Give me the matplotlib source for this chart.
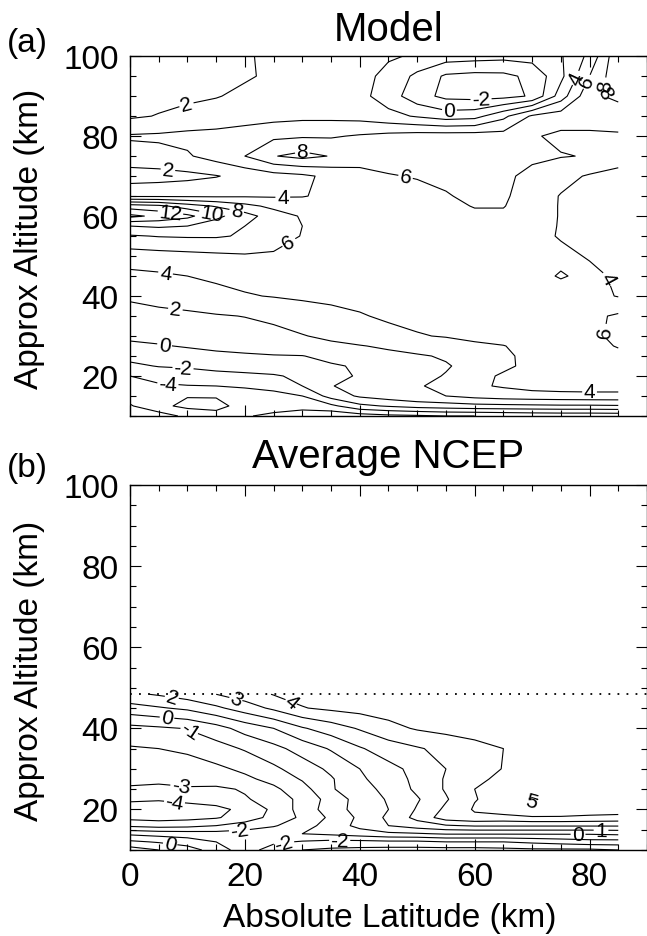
import numpy as np
import matplotlib
matplotlib.use("Agg")
import matplotlib.pyplot as plt
from matplotlib.ticker import MultipleLocator

plt.rcParams['font.family'] = ['Liberation Sans', 'DejaVu Sans']

# latitude columns shared by both fields
lat = [0, 5, 10, 15, 20, 25, 30, 35, 40, 45, 50, 55, 60, 65, 70, 75, 80, 85]

# model field, one row per altitude
model_alt = [10, 12.5, 15, 17.5, 20, 22.5, 25, 27.5, 30, 35, 40, 45, 50,
             55, 57.5, 60, 62.5, 65, 70, 75, 80, 85, 90, 95, 100]
model_t = [
    [-2.0, -3.0, -4.5, -5.5, -5.8, -6.5, -7.5, -7.5, -7.0, -6.5, -6.3, -6.0, -6.0, -5.8, -5.6, -5.5, -5.5, -5.4],
    [-3.8, -5.5, -6.5, -6.4, -5.5, -5.0, -5.0, -4.5, -2.5, -1.8, -1.2, -0.9, -0.6, -0.5, -0.4, -0.3, -0.3, -0.2],
    [-4.8, -5.3, -5.9, -5.9, -5.2, -4.6, -4.0, -1.2, 0.3, 1.0, 1.6, 2.0, 2.6, 3.0, 3.2, 3.3, 3.4, 3.4],
    [-4.4, -4.3, -4.1, -4.0, -3.7, -3.4, -2.0, -0.05, 0.4, 0.9, 1.8, 2.6, 3.7, 4.2, 4.7, 4.9, 4.9, 4.9],
    [-4.0, -3.2, -2.7, -2.5, -2.4, -2.2, -1.6, -0.6, 0.2, 0.8, 1.5, 2.1, 3.5, 4.2, 4.7, 4.9, 5.0, 5.0],
    [-2.4, -1.9, -1.8, -1.5, -1.2, -0.9, -0.6, -0.2, 0.2, 0.8, 1.5, 1.85, 2.6, 3.7, 4.4, 4.7, 5.0, 5.3],
    [-1.4, -0.8, -0.5, -0.3, -0.2, -0.1, -0.05, 0.5, 1.0, 1.5, 1.8, 2.2, 3.0, 3.8, 4.3, 4.6, 5.2, 5.6],
    [-0.3, -0.1, 0.1, 0.3, 0.5, 0.8, 1.2, 1.6, 1.9, 2.3, 2.8, 3.3, 3.7, 3.95, 4.5, 5.0, 5.5, 6.1],
    [0.3, 0.4, 0.6, 0.8, 1.2, 1.6, 1.9, 2.4, 3.0, 3.6, 3.9, 4.1, 4.4, 4.6, 4.8, 5.1, 5.6, 6.4],
    [1.5, 1.6, 1.7, 1.85, 2.05, 2.3, 3.0, 3.5, 3.9, 4.2, 4.4, 4.5, 4.6, 4.7, 4.9, 5.2, 5.5, 6.3],
    [2.2, 2.5, 2.8, 3.5, 3.85, 4.1, 4.3, 4.4, 4.4, 4.5, 4.5, 4.5, 4.5, 4.5, 4.5, 4.6, 4.6, 3.9],
    [3.5, 3.7, 4.0, 4.3, 4.6, 4.8, 4.9, 4.9, 4.8, 4.7, 4.6, 4.6, 4.5, 4.5, 4.4, 3.9, 4.3, 3.8],
    [5.0, 5.2, 5.4, 5.6, 5.8, 5.7, 5.3, 5.0, 4.8, 4.7, 4.7, 4.7, 4.7, 4.6, 4.4, 4.3, 3.9, 3.6],
    [7.8, 8.1, 8.2, 8.2, 7.8, 7.0, 5.9, 5.2, 4.9, 4.8, 4.8, 4.8, 4.9, 4.9, 4.4, 3.9, 3.6, 3.6],
    [10.0, 10.3, 10.0, 9.0, 8.0, 7.0, 6.0, 5.3, 5.0, 4.9, 4.9, 5.0, 5.1, 5.1, 4.6, 3.9, 3.6, 3.6],
    [14.5, 13.5, 12.5, 10.5, 8.8, 7.0, 5.8, 5.2, 5.0, 5.0, 5.1, 5.3, 5.6, 5.6, 4.8, 3.9, 3.6, 3.6],
    [11.0, 10.5, 9.0, 7.8, 6.6, 5.5, 5.0, 4.8, 4.9, 5.0, 5.2, 5.5, 6.1, 6.1, 4.8, 3.9, 3.6, 3.6],
    [3.7, 3.7, 3.7, 3.7, 3.8, 3.8, 3.9, 4.4, 4.8, 5.2, 5.5, 5.9, 6.3, 6.3, 5.0, 3.9, 3.6, 3.6],
    [1.0, 1.2, 1.5, 1.9, 2.6, 3.2, 3.6, 4.5, 5.4, 5.9, 6.1, 6.3, 6.4, 6.3, 5.6, 4.6, 3.8, 3.5],
    [3.3, 3.4, 3.8, 4.8, 6.0, 7.9, 8.6, 7.9, 6.8, 6.7, 6.8, 6.9, 6.9, 6.8, 6.3, 6.1, 5.9, 4.7],
    [4.2, 4.3, 4.5, 4.6, 5.0, 5.6, 5.8, 5.8, 6.2, 6.6, 6.9, 7.0, 7.0, 6.8, 6.2, 5.6, 5.6, 5.8],
    [1.7, 2.1, 2.6, 2.9, 3.1, 3.3, 3.5, 3.5, 3.3, 2.6, 1.8, 1.0, 1.3, 3.5, 6.3, 7.0, 7.0, 6.8],
    [1.2, 1.4, 1.6, 1.9, 2.4, 2.8, 3.0, 3.0, 2.6, 1.0, -1.2, -2.5, -2.7, -2.6, -1.8, 3.0, 7.5, 8.5],
    [1.0, 1.1, 1.3, 1.5, 1.8, 2.3, 2.8, 2.8, 2.6, 1.5, -0.5, -2.3, -2.6, -2.5, -1.5, 1.5, 6.0, 9.5],
    [1.0, 1.0, 1.2, 1.5, 1.8, 2.4, 2.6, 2.6, 2.5, 2.2, 1.8, 1.0, 0.8, 0.6, 0.8, 1.8, 4.5, 9.6],
]
model_levels = list(range(-8, 18, 2))
model_label_pos = [(10, 87), (6.6, 71.5), (30, 77), (26.6, 64.5), (7, 60.3),
                   (14.3, 61), (18.6, 61.5), (27.8, 53), (48, 70), (6.3, 47),
                   (8, 38), (6, 27.5), (9.2, 21), (6.6, 18), (80, 15.5),
                   (82.6, 44), (83, 31), (61, 92.5), (55.6, 86.5), (77, 95),
                   (79, 94), (81, 93), (82, 91)]

# NCEP average, data only up to the 1 hPa level
ncep_alt = [10, 12, 14, 16, 18, 20, 22.5, 25, 27.5, 30, 35, 40, 45, 48.4]
ncep_t = [
    [1.5, 1.0, 0.5, -0.5, -1.5, -2.5, -3.0, -3.2, -3.3, -3.4, -3.4, -3.4, -3.4, -3.3, -3.2, -3.2, -3.2, -3.0],
    [0.2, -0.1, -0.5, -1.0, -1.4, -1.8, -2.1, -2.3, -2.3, -2.2, -2.2, -2.0, -2.0, -2.0, -1.8, -1.6, -1.4, -1.4],
    [-1.2, -1.4, -1.5, -1.6, -1.5, -1.3, -1.0, -0.8, -0.5, -0.2, -0.1, 0.1, 0.1, 0.1, 0.1, 0.1, 0.1, 0.2],
    [-3.2, -3.4, -3.3, -3.0, -2.6, -2.1, -1.4, -0.6, 0.3, 1.0, 1.5, 1.9, 2.1, 2.1, 2.1, 2.1, 2.1, 2.1],
    [-4.3, -4.4, -4.3, -4.1, -3.5, -2.7, -1.8, -0.8, 0.2, 1.2, 2.3, 3.5, 3.8, 3.7, 3.9, 3.9, 3.8, 3.7],
    [-4.6, -4.6, -4.5, -4.3, -3.7, -2.8, -1.6, -0.5, 0.4, 1.0, 2.1, 3.2, 4.1, 4.5, 4.7, 4.6, 4.5, 4.5],
    [-3.8, -3.9, -3.7, -3.5, -3.1, -2.6, -1.7, -0.6, 0.4, 1.1, 1.9, 2.9, 3.95, 4.4, 5.1, 4.6, 4.5, 4.5],
    [-3.1, -3.2, -3.1, -3.2, -2.9, -2.2, -1.4, -0.1, 0.6, 1.3, 2.2, 3.1, 4.0, 4.4, 4.5, 4.5, 4.5, 4.5],
    [-2.8, -2.8, -2.7, -2.5, -2.2, -1.7, -0.9, -0.1, 0.8, 1.6, 2.2, 3.1, 3.8, 4.2, 4.4, 4.5, 4.5, 4.5],
    [-2.6, -2.6, -2.5, -2.2, -1.8, -1.2, -0.5, 0.2, 1.0, 1.7, 2.3, 3.0, 3.4, 4.05, 4.3, 4.4, 4.5, 4.5],
    [-2.1, -2.0, -1.8, -1.4, -0.9, -0.3, 0.4, 1.1, 1.9, 2.5, 2.9, 3.3, 3.7, 4.0, 4.2, 4.4, 4.5, 4.5],
    [-1.3, -1.15, -0.95, -0.4, 0.4, 1.0, 1.9, 2.5, 3.1, 3.7, 4.1, 4.3, 4.4, 4.5, 4.5, 4.5, 4.5, 4.5],
    [0.6, 0.9, 1.2, 1.8, 2.5, 3.2, 3.95, 4.2, 4.35, 4.45, 4.5, 4.5, 4.5, 4.5, 4.5, 4.5, 4.5, 4.5],
    [1.8, 2.1, 2.5, 3.0, 3.5, 4.05, 4.3, 4.4, 4.45, 4.5, 4.5, 4.5, 4.5, 4.5, 4.5, 4.5, 4.5, 4.5],
]
ncep_top = 48.4
ncep_levels = list(range(-6, 7))
ncep_label_pos = [(7.3, 47.7), (18.4, 47.2), (28, 46.5), (6.7, 43.5), (9.8, 39),
                  (9, 26.3), (7.8, 22), (19, 15.2), (7.2, 12), (26.4, 12.7),
                  (36.5, 12.2), (70, 22), (78, 14), (82, 15)]


def style_axes(ax, xlabels=True):
    ax.set_xlim(0, 90)
    ax.set_ylim(10, 100)
    ax.xaxis.set_major_locator(MultipleLocator(20))
    ax.xaxis.set_minor_locator(MultipleLocator(5))
    ax.yaxis.set_major_locator(MultipleLocator(20))
    ax.yaxis.set_minor_locator(MultipleLocator(5))
    ax.tick_params(which='both', direction='in', top=True, right=True,
                   labelsize=24, width=0.8, pad=8)
    ax.tick_params(which='major', length=8)
    ax.tick_params(which='minor', length=4)
    if not xlabels:
        ax.tick_params(labelbottom=False)
    for s in ax.spines.values():
        s.set_linewidth(1.0)


fig = plt.figure(figsize=(6.47, 9.37), dpi=100)
ax1 = fig.add_axes([0.2009, 0.555, 0.7991, 0.384])
ax2 = fig.add_axes([0.2009, 0.0918, 0.7991, 0.3895])

cs1 = ax1.contour(lat, model_alt, np.array(model_t), levels=model_levels,
                  colors='k', linewidths=0.8, linestyles='solid')
ax1.clabel(cs1, fmt='%d', fontsize=15, inline=True, inline_spacing=2,
           manual=model_label_pos)
style_axes(ax1, xlabels=False)

cs2 = ax2.contour(lat, ncep_alt, np.array(ncep_t), levels=ncep_levels,
                  colors='k', linewidths=0.8, linestyles='solid')
ax2.clabel(cs2, fmt='%d', fontsize=15, inline=True, inline_spacing=2,
           manual=ncep_label_pos)
ax2.axhline(ncep_top, color='k', lw=1.3, linestyle=(0, (1, 4)))
style_axes(ax2)

fig.text(0.6005, 0.968, 'Model', fontsize=29, ha='center', va='center')
fig.text(0.6005, 0.512, 'Average NCEP', fontsize=29, ha='center', va='center')
fig.text(0.042, 0.954, '(a)', fontsize=24, ha='center', va='center')
fig.text(0.042, 0.500, '(b)', fontsize=24, ha='center', va='center')
fig.text(0.046, 0.745, 'Approx Altitude (km)', fontsize=24, rotation=90,
         ha='center', va='center')
fig.text(0.046, 0.284, 'Approx Altitude (km)', fontsize=24, rotation=90,
         ha='center', va='center')
fig.text(0.6028, 0.020, 'Absolute Latitude (km)', fontsize=24,
         ha='center', va='center')

fig.savefig('out.png', dpi=100)
